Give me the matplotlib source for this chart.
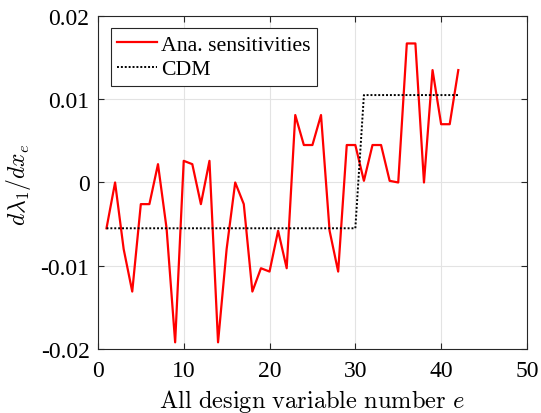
import matplotlib
matplotlib.use("Agg")
import matplotlib.pyplot as plt

# design variable index
e = list(range(1, 43))

# analytical sensitivities
ana = [-0.0055, 0.0, -0.0080, -0.0131, -0.0026, -0.0026, 0.0022, -0.0055,
       -0.0192, 0.0026, 0.0022, -0.0026, 0.0026, -0.0192, -0.0080, 0.0,
       -0.0026, -0.0131, -0.0103, -0.0107, -0.0058, -0.0103, 0.0081, 0.0045,
       0.0045, 0.0081, -0.0058, -0.0107, 0.0045, 0.0045, 0.0002, 0.0045,
       0.0045, 0.0002, 0.0, 0.0167, 0.0167, 0.0, 0.0135, 0.0070,
       0.0070, 0.0135]

# central difference values
cdm = [-0.0055] * 30 + [0.0105] * 12

xticks = [0, 10, 20, 30, 40, 50]
yticks = [-0.02, -0.01, 0, 0.01, 0.02]
yticklabels = ["-0.02", "-0.01", "0", "0.01", "0.02"]

plt.rcParams["font.family"] = "Liberation Serif"
plt.rcParams["mathtext.fontset"] = "cm"

fig = plt.figure(figsize=(5.41, 4.14), dpi=100)
ax = fig.add_axes([0.181, 0.1546, 0.793, 0.8044])

ax.plot(e, ana, color="red", lw=1.6, label="Ana. sensitivities")
ax.plot(e, cdm, color="black", lw=1.4, ls=(0, (1, 1)), label="CDM")

ax.set_xlim(0, 50)
ax.set_ylim(-0.02, 0.02)
ax.set_xticks(xticks)
ax.set_yticks(yticks)
ax.set_yticklabels(yticklabels)
ax.tick_params(direction="in", length=4, labelsize=17, colors="#262626",
               top=True, right=True)
ax.tick_params(axis="x", pad=8)
ax.tick_params(axis="y", pad=6)
for lab in ax.get_xticklabels() + ax.get_yticklabels():
    lab.set_color("black")
for s in ax.spines.values():
    s.set_color("#262626")
    s.set_linewidth(0.8)
ax.grid(True, color="#e3e3e3", lw=0.8)
ax.set_axisbelow(True)

ax.set_xlabel(r"$\mathrm{All\ design\ variable\ number}\ e$", fontsize=17.6)
ax.xaxis.set_label_coords(0.5, -0.115)
ax.set_ylabel(r"$d\lambda_1/dx_e$", fontsize=17)
ax.yaxis.set_label_coords(-0.152, 0.495)

leg = ax.legend(loc="upper left", fontsize=15.7, fancybox=False,
                edgecolor="#262626", framealpha=1, handlelength=1.8,
                borderpad=0.3, labelspacing=0.2, handletextpad=0.2,
                borderaxespad=0, bbox_to_anchor=(0.030, 0.964))
leg.get_frame().set_linewidth(0.8)

fig.savefig("out.png", dpi=100)
